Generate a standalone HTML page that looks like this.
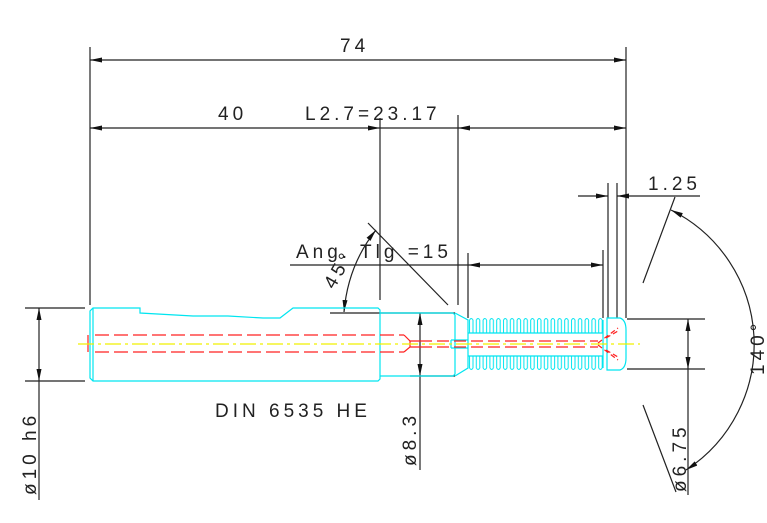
<!DOCTYPE html>
<html><head><meta charset="utf-8"><style>
html,body{margin:0;padding:0;background:#fff;}
svg{display:block;}
text{font-family:"Liberation Sans",sans-serif;font-size:19px;fill:#222;letter-spacing:4px;}
</style></head><body>
<svg width="767" height="523" viewBox="0 0 767 523" xmlns="http://www.w3.org/2000/svg">
<defs>
<marker id="a" viewBox="0 0 12 6" refX="12" refY="3" markerWidth="12" markerHeight="6" markerUnits="userSpaceOnUse" orient="auto"><path d="M0,0.5 L12,3 L0,5.5 Z" fill="#111"/></marker>
<marker id="b" viewBox="0 0 12 6" refX="0" refY="3" markerWidth="12" markerHeight="6" markerUnits="userSpaceOnUse" orient="auto"><path d="M12,0.5 L0,3 L12,5.5 Z" fill="#111"/></marker>
<pattern id="thr" x="468" y="0" width="6.8" height="523" patternUnits="userSpaceOnUse">
<path d="M1.5,320 V333 M5,320 V333 M1.5,356 V368 M5,356 V368 M1.5,320 Q3.3,317 5,320 M1.5,368 Q3.3,371 5,368" stroke="#00e5f0" stroke-width="1" fill="none"/>
</pattern>
</defs>
<g stroke="#222" stroke-width="1.2" fill="none">
<path d="M90,47 V305 M626,47 V318 M380,118 V300 M458,115 V305"/>
<path d="M468,253 V318 M603,250 V318 M608,183 V318 M617,183 V318"/>
<path d="M90,60 H626" marker-start="url(#b)" marker-end="url(#a)"/>
<path d="M90,128 H380" marker-start="url(#b)" marker-end="url(#a)"/>
<path d="M380,128 H458"/>
<path d="M458,128 H626" marker-start="url(#b)" marker-end="url(#a)"/>
<path d="M290,265 H468"/>
<path d="M468,265 H603" marker-start="url(#b)" marker-end="url(#a)"/>
<path d="M578,196 H608" marker-end="url(#a)"/>
<path d="M617,196 H700" marker-start="url(#b)"/>
<path d="M675,197 L643,283 M643,405 L676,492"/>
<path d="M671,210 A150,150 0 0 1 686,470" marker-start="url(#b)" marker-end="url(#a)"/>
<path d="M368,223 L448,305"/>
<path d="M376,230 Q348,265 344,312" marker-start="url(#b)" marker-end="url(#a)"/>
<path d="M330,313 H455 M410,376 H455"/>
<path d="M25,308 H85 M25,381 H85"/>
<path d="M39,308 V381" marker-start="url(#b)" marker-end="url(#a)"/>
<path d="M39,381 V500"/>
<path d="M420,313 V376" marker-start="url(#b)" marker-end="url(#a)"/>
<path d="M420,376 V470"/>
<path d="M627,319 H705 M627,369 H705"/>
<path d="M688,319 V369" marker-start="url(#b)" marker-end="url(#a)"/>
<path d="M688,369 V495"/>
</g>
<g stroke="#00e5f0" stroke-width="1.2" fill="none">
<path d="M93,308 H140 V313 L193,316 H228 L263,318 H280 L293,308 H378 L380,310 V379 L378,381 H93 L90,378 V311 Z"/>
<path d="M93,308 V381"/>
<path d="M380,313 H453 L455,315 V374 L453,376 H380"/>
<path d="M455,313 L468,320 V368 L455,376"/>
<path d="M451,340 H468 M451,348 H468 M451,340 V348"/>
<path d="M468,333 H603 M468,356 H603"/>
<path d="M603,320 V368"/>
<path d="M607,318 H620 Q626,320 626,330 V358 Q626,368 620,370 H607 Z"/>
</g>
<rect x="468" y="315" width="136" height="58" fill="url(#thr)"/>
<g stroke="#ff2020" stroke-width="1.2" fill="none">
<path d="M95,335 H404 M95,352 H404" stroke-dasharray="14,5"/>
<path d="M88,335 V352 M404,335 L410,341 V347 L404,352 M410,341 H420 M410,347 H420"/>
<path d="M420,341 H598 M420,347 H598" stroke-dasharray="12,5"/>
<path d="M598,343 L618,328 M598,345 L618,360 M606,338 L618,331 M606,350 L618,357" stroke-dasharray="5,3"/>
</g>
<path d="M78,344 H640" stroke="#f0f000" stroke-width="1.2" stroke-dasharray="16,4,3,4" fill="none"/>
<text x="340" y="52">74</text>
<text x="218" y="120">40</text>
<text x="305" y="120">L2.7=23.17</text>
<text x="296" y="258">Ang. Tlg =15</text>
<text x="648" y="190">1.25</text>
<text x="215" y="417">DIN 6535 HE</text>
<text transform="translate(334,290) rotate(-60)">45°</text>
<text transform="translate(764,375) rotate(-90)">140°</text>
<text transform="translate(36,495) rotate(-90)">ø10 h6</text>
<text transform="translate(416,466) rotate(-90)">ø8.3</text>
<text transform="translate(686,492) rotate(-90)">ø6.75</text>
</svg>
</body></html>
